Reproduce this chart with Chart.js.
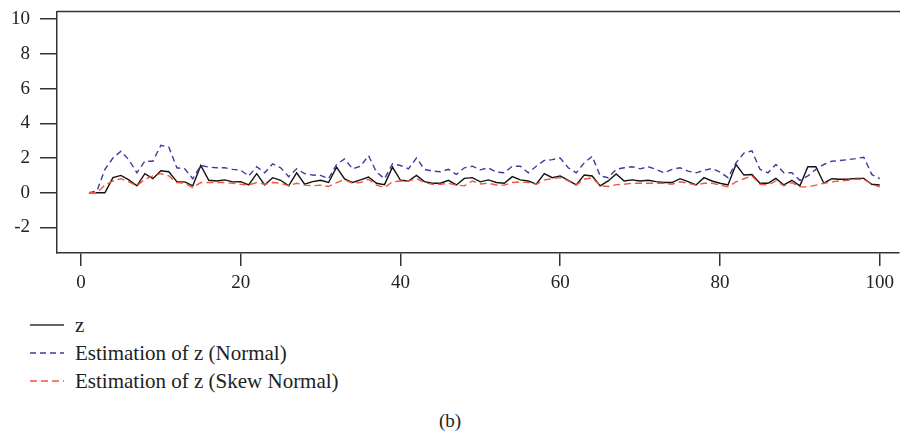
<!DOCTYPE html>
<html>
<head>
<meta charset="utf-8">
<script src="https://cdn.jsdelivr.net/npm/chart.js@4/dist/chart.umd.min.js"></script>
<style>
  html, body { margin: 0; padding: 0; background: #fff; }
  #wrap { position: relative; width: 900px; height: 434px; overflow: hidden; font-family: "Liberation Serif", "DejaVu Serif", serif; color: #222; }
  #cbox { position: absolute; left: 0; top: -10px; width: 900px; height: 310px; }
  #legend { position: absolute; left: 30px; top: 311px; font-size: 21px; }
  .item { display: flex; align-items: center; height: 28px; }
  .item svg { width: 34px; height: 10px; margin-right: 11px; }
  #caption { position: absolute; left: 0; width: 900px; top: 410px; text-align: center; font-size: 19px; }
</style>
</head>
<body>
<div id="wrap">
  <div id="cbox"><canvas id="c" width="900" height="310"></canvas></div>
  <div id="legend"></div>
  <div id="caption">(b)</div>
</div>
<script>
const seriesLabels = ["z", "Estimation of z (Normal)", "Estimation of z (Skew Normal)"];
const zValues = [0,0,0,0.87,1.0,0.74,0.4,1.1,0.81,1.27,1.21,0.64,0.63,0.4,1.57,0.72,0.68,0.74,0.63,0.64,
  0.45,1.1,0.45,0.87,0.72,0.4,1.15,0.49,0.64,0.72,0.59,1.48,0.8,0.59,0.74,0.91,0.55,0.47,1.48,0.72,
  0.68,1.0,0.64,0.55,0.55,0.72,0.45,0.83,0.87,0.63,0.74,0.59,0.55,0.93,0.74,0.68,0.49,1.1,0.87,0.97,
  0.72,0.45,1.02,0.97,0.4,0.68,1.08,0.68,0.74,0.68,0.72,0.64,0.59,0.59,0.81,0.64,0.45,0.87,0.68,0.55,
  0.45,1.63,1.02,1.05,0.55,0.55,0.83,0.45,0.72,0.4,1.5,1.5,0.55,0.81,0.78,0.78,0.83,0.83,0.49,0.45];
const normalValues = [0,0.1,1.35,2.0,2.39,1.9,1.15,1.82,1.82,2.73,2.63,1.44,1.38,0.81,1.57,1.48,1.44,1.44,1.35,1.3,
  0.97,1.5,1.15,1.67,1.44,0.93,1.38,1.1,1.02,1.0,0.81,1.63,1.95,1.38,1.53,2.14,1.19,0.81,1.67,1.57,
  1.38,2.0,1.35,1.25,1.21,1.35,1.06,1.44,1.53,1.32,1.44,1.19,1.15,1.53,1.53,1.15,1.53,1.86,1.91,2.0,
  1.44,1.15,1.72,2.1,0.97,0.87,1.35,1.44,1.5,1.38,1.5,1.35,1.15,1.35,1.44,1.25,1.15,1.29,1.4,1.19,
  0.87,1.72,2.29,2.42,1.35,1.15,1.63,1.15,1.15,0.72,0.97,1.35,1.63,1.82,1.86,1.91,1.97,2.05,1.06,0.81];
const skewValues = [0,0,0.44,0.68,0.81,0.63,0.4,0.78,0.97,1.1,0.97,0.59,0.55,0.3,0.59,0.59,0.59,0.59,0.55,0.49,
  0.45,0.59,0.49,0.59,0.55,0.4,0.55,0.44,0.4,0.44,0.36,0.59,0.75,0.55,0.59,0.78,0.44,0.3,0.63,0.68,
  0.68,0.81,0.59,0.49,0.49,0.55,0.44,0.4,0.68,0.51,0.55,0.45,0.44,0.59,0.63,0.59,0.49,0.74,0.81,0.87,
  0.68,0.44,0.78,0.87,0.4,0.36,0.47,0.49,0.55,0.55,0.55,0.55,0.55,0.49,0.63,0.55,0.44,0.55,0.55,0.44,
  0.34,0.63,0.81,0.97,0.49,0.45,0.68,0.4,0.59,0.34,0.34,0.44,0.55,0.63,0.68,0.72,0.78,0.78,0.49,0.34];
const xTickValues = [0, 20, 40, 60, 80, 100];
const yTickValues = [-2, 0, 2, 4, 6, 8, 10];

const colors = ["#111111", "#3f3aa0", "#f2563d"];
const dashes = [[], [6, 4], [7, 4]];

const toPoints = arr => arr.map((v, i) => ({ x: i + 1, y: v }));
const allValues = [zValues, normalValues, skewValues];
const orders = [3, 2, 1];

const datasets = allValues.map((vals, k) => ({
  label: seriesLabels[k],
  data: toPoints(vals),
  borderColor: colors[k],
  borderWidth: 1.4,
  borderDash: dashes[k],
  pointRadius: 0,
  tension: 0,
  fill: false,
  order: orders[k]
}));

const topBorder = {
  id: 'topBorder',
  afterDraw(chart) {
    const { ctx, chartArea } = chart;
    ctx.save();
    ctx.strokeStyle = '#333';
    ctx.lineWidth = 1.5;
    ctx.beginPath();
    ctx.moveTo(chartArea.left, chartArea.top);
    ctx.lineTo(chartArea.right + 2, chartArea.top);
    ctx.stroke();
    ctx.restore();
  }
};

const tickFont = { family: "'Liberation Serif', 'DejaVu Serif', serif", size: 19 };

new Chart(document.getElementById('c'), {
  type: 'line',
  data: { datasets },
  plugins: [topBorder],
  options: {
    responsive: false,
    animation: false,
    layout: { padding: { top: 7, left: 0, right: 0, bottom: 0 } },
    plugins: { legend: { display: false }, tooltip: { enabled: false } },
    scales: {
      x: {
        type: 'linear',
        min: -3,
        max: 102.4,
        afterBuildTicks: s => { s.ticks = xTickValues.map(v => ({ value: v })); },
        afterFit: s => { s.height = 47; },
        grid: { drawOnChartArea: false, drawTicks: true, tickLength: 13, color: '#333', lineWidth: 1.5 },
        border: { display: true, color: '#333', width: 1.5 },
        ticks: { color: '#222', font: tickFont, padding: 6, maxRotation: 0 }
      },
      y: {
        type: 'linear',
        min: -3.47,
        max: 10.45,
        afterBuildTicks: s => { s.ticks = yTickValues.map(v => ({ value: v })); },
        afterFit: s => { s.width = 57; },
        grid: { drawOnChartArea: false, drawTicks: true, tickLength: 17, color: '#333', lineWidth: 1.5 },
        border: { display: true, color: '#333', width: 1.5 },
        ticks: { color: '#222', font: tickFont, padding: 10 }
      }
    }
  }
});

// HTML legend built from the series definitions
const legend = document.getElementById('legend');
seriesLabels.forEach((lab, k) => {
  const item = document.createElement('div');
  item.className = 'item';
  const dash = dashes[k].length ? `stroke-dasharray="${dashes[k].join(',')}"` : '';
  item.innerHTML = `<svg viewBox="0 0 34 10"><line x1="0" y1="5" x2="34" y2="5" stroke="${k === 0 ? '#333' : colors[k]}" stroke-width="1.5" ${dash}/></svg><span>${lab}</span>`;
  legend.appendChild(item);
});
</script>
</body>
</html>
